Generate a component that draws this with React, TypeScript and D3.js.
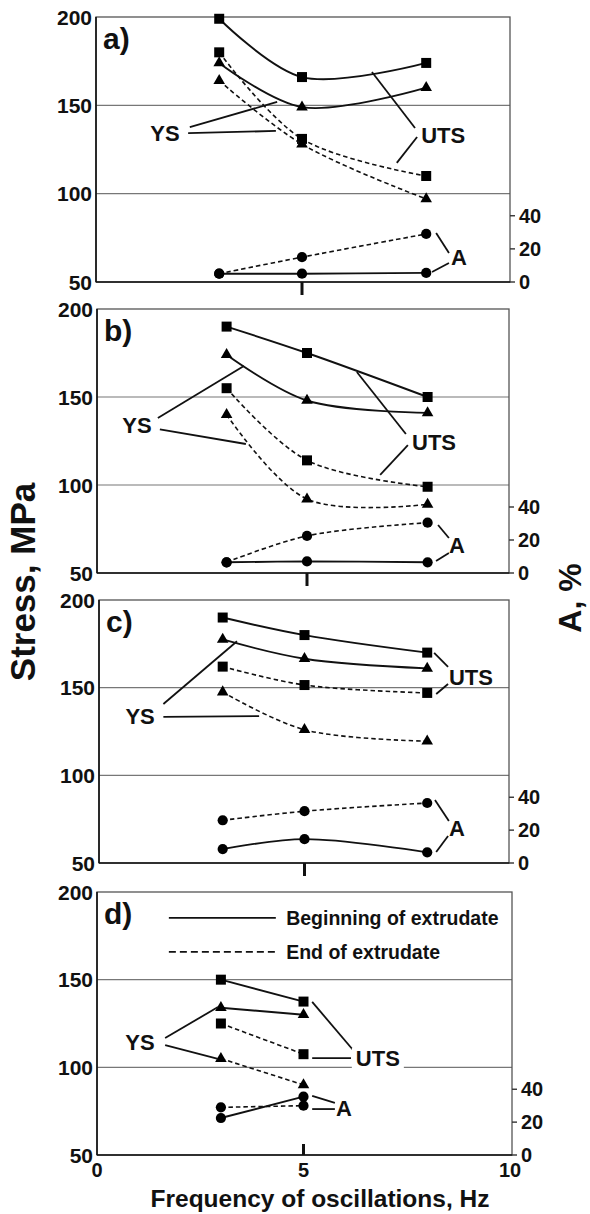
import * as React from 'react'
import * as d3 from 'd3'

const W = 590
const H = 1214
const FONT = '"Liberation Sans", Arial, sans-serif'

const STRESS_TICKS = [50, 100, 150, 200]
const GRID_VALUES = [100, 150]
const A_TICKS = [0, 20, 40]
const FREQ_TICKS = [0, 5, 10]

const FREQ_ABC = [3, 5, 8]
const FREQ_D = [3, 5]

// a)
const utsBeginA = [199, 166, 174]
const ysBeginA = [174, 149, 160]
const utsEndA = [180, 131, 110]
const ysEndA = [164, 128, 97]
const aBeginA = [5, 5, 5.5]
const aEndA = [5, 15, 29]

// b)
const utsBeginB = [190, 175, 150]
const ysBeginB = [174, 148, 141]
const utsEndB = [155, 114, 99]
const ysEndB = [140, 92, 89]
const aBeginB = [6.5, 7, 6.5]
const aEndB = [6.5, 22.5, 30.5]

// c)
const utsBeginC = [190, 180, 170]
const ysBeginC = [177.5, 166.5, 161]
const utsEndC = [162, 151.5, 147]
const ysEndC = [147.5, 126, 119.5]
const aBeginC = [8.5, 14.5, 6.5]
const aEndC = [26, 31.5, 36.5]

// d)
const utsBeginD = [150, 137.5]
const ysBeginD = [134, 130]
const utsEndD = [125, 107.5]
const ysEndD = [105, 90]
const aBeginD = [22.5, 35.5]
const aEndD = [29, 30]

// layout of the four stacked panels (px)
const PANEL_TOPS = [17, 309, 600, 892]
const PANEL_BOTTOMS = [282, 573, 863, 1155]
const FRAME_X = [[96, 510], [97, 509], [99, 509], [97, 512]]
const DATA_X = [[95, 509], [106, 508], [100, 509], [97, 510]]

// labels with leader lines, in (Hz, MPa)
type Note = { text: string; pos: [number, number]; leaders: number[][]; bg?: boolean }

const notesA: Note[] = [
  { text: 'YS', pos: [1.69, 134.3], leaders: [[2.29, 137.7, 4.4, 151.9], [2.25, 134.3, 4.37, 135.5]] },
  { text: 'UTS', pos: [8.41, 133.2], leaders: [[7.73, 137.2, 6.69, 168.9], [7.78, 132.1, 7.29, 117.4]] },
  { text: 'A', pos: [8.79, 64.2], leaders: [[8.24, 77.7, 8.55, 66.4], [8.14, 55.7, 8.55, 60.8]] }
]
const notesB: Note[] = [
  { text: 'YS', pos: [0.77, 134.1], leaders: [[1.29, 138.1, 3.43, 167.6], [1.34, 131.6, 3.48, 123.3]] },
  { text: 'UTS', pos: [8.16, 124.4], leaders: [[7.46, 129, 6.24, 164.2], [7.51, 122.7, 6.82, 105.7]] },
  { text: 'A', pos: [8.73, 65.9], leaders: [[8.26, 77.3, 8.53, 69.9], [8.21, 56.8, 8.53, 61.4]] }
]
const notesC: Note[] = [
  { text: 'YS', pos: [0.98, 133.8], leaders: [[1.55, 140.7, 3.35, 176.5], [1.55, 133.3, 3.89, 133.8]] },
  { text: 'UTS', pos: [9.07, 156.1], leaders: [[8.17, 169.8, 8.51, 161.8], [8.22, 146.4, 8.51, 152.1]] },
  { text: 'A', pos: [8.73, 70], leaders: [[8.19, 85.9, 8.53, 74], [8.22, 56.3, 8.51, 65.4]] }
]
const notesD: Note[] = [
  { text: 'YS', pos: [1.04, 114.5], leaders: [[1.65, 116.7, 2.93, 134.4], [1.65, 112.7, 2.93, 104.8]] },
  { text: 'UTS', pos: [6.8, 105.3], leaders: [[5.21, 137.3, 6.2, 109.9], [5.21, 105.3, 6.15, 105.3]], bg: true },
  { text: 'A', pos: [5.98, 76.8], leaders: [[5.21, 83.7, 5.76, 79.7], [5.21, 76.2, 5.76, 76.2]] }
]

const LEGEND_LABELS = ['Beginning of extrudate', 'End of extrudate']

type Series = { freq: number[]; values: number[]; kind: 'uts' | 'ys' | 'a'; dashed: boolean }

function makeSeries(freq: number[], ub: number[], yb: number[], ue: number[], ye: number[], ab: number[], ae: number[]): Series[] {
  return [
    { freq, values: ub, kind: 'uts', dashed: false },
    { freq, values: yb, kind: 'ys', dashed: false },
    { freq, values: ue, kind: 'uts', dashed: true },
    { freq, values: ye, kind: 'ys', dashed: true },
    { freq, values: ab, kind: 'a', dashed: false },
    { freq, values: ae, kind: 'a', dashed: true }
  ]
}

const PANELS = [
  { letter: 'a)', series: makeSeries(FREQ_ABC, utsBeginA, ysBeginA, utsEndA, ysEndA, aBeginA, aEndA), notes: notesA },
  { letter: 'b)', series: makeSeries(FREQ_ABC, utsBeginB, ysBeginB, utsEndB, ysEndB, aBeginB, aEndB), notes: notesB },
  { letter: 'c)', series: makeSeries(FREQ_ABC, utsBeginC, ysBeginC, utsEndC, ysEndC, aBeginC, aEndC), notes: notesC },
  { letter: 'd)', series: makeSeries(FREQ_D, utsBeginD, ysBeginD, utsEndD, ysEndD, aBeginD, aEndD), notes: notesD }
]

const symbolFor = {
  uts: d3.symbol().type(d3.symbolSquare).size(100)(),
  ys: d3.symbol().type(d3.symbolTriangle).size(58)(),
  a: d3.symbol().type(d3.symbolCircle).size(82)()
}

function Panel({ idx }: { idx: number }) {
  const p = PANELS[idx]
  const top = PANEL_TOPS[idx]
  const bottom = PANEL_BOTTOMS[idx]
  const [fl, fr] = FRAME_X[idx]
  const last = idx === 3
  const x = d3.scaleLinear().domain([0, 10]).range(DATA_X[idx])
  const y = d3.scaleLinear().domain([50, 200]).range([bottom, top])
  const ya = d3.scaleLinear().domain([0, 160]).range([bottom, top])

  return (
    <g>
      {GRID_VALUES.map(v => (
        <line key={v} x1={fl} x2={fr} y1={y(v)} y2={y(v)} stroke="#777" strokeWidth={1.2} />
      ))}
      <rect x={fl} y={top} width={fr - fl} height={bottom - top} fill="none" stroke="#555" strokeWidth={1.3} />
      <line x1={fl} x2={fl} y1={top} y2={bottom} stroke="#111" strokeWidth={1.6} />
      <line x1={fl} x2={fr} y1={bottom} y2={bottom} stroke="#111" strokeWidth={1.6} />

      {STRESS_TICKS.map(v => (
        <text key={v} x={fl - 4} y={y(v)} dy="0.36em" textAnchor="end" fontSize={21} fontWeight="bold">
          {v}
        </text>
      ))}
      {A_TICKS.map(v => (
        <g key={v}>
          <line x1={fr} x2={fr + 5} y1={ya(v)} y2={ya(v)} stroke="#333" strokeWidth={1.4} />
          <text x={fr + 9} y={ya(v)} dy="0.36em" fontSize={20} fontWeight="bold">
            {v}
          </text>
        </g>
      ))}
      <line x1={x(5)} x2={x(5)} y1={bottom} y2={last ? bottom - 11 : bottom + 13} stroke="#111" strokeWidth={3} />
      {last &&
        FREQ_TICKS.map(v => (
          <text key={v} x={x(v)} y={bottom + 22} textAnchor="middle" fontSize={20} fontWeight="bold">
            {v}
          </text>
        ))}

      <text x={fl + 7} y={top + 32} fontSize={30} fontWeight="bold">
        {p.letter}
      </text>

      {p.series.map((s, i) => {
        const ys = s.kind === 'a' ? ya : y
        const pts = s.freq.map((f, j) => [f, s.values[j]] as [number, number])
        const line = d3
          .line<[number, number]>()
          .x(d => x(d[0]))
          .y(d => ys(d[1]))
          .curve(d3.curveCatmullRom.alpha(0.5))
        return (
          <g key={i}>
            <path d={line(pts) || ''} fill="none" stroke="#111" strokeWidth={s.dashed ? 1.6 : 1.9} strokeDasharray={s.dashed ? '4.5,3' : undefined} />
            {pts.map((d, j) => (
              <path key={j} d={symbolFor[s.kind] || ''} transform={`translate(${x(d[0])},${ys(d[1])})`} fill="#000" />
            ))}
          </g>
        )
      })}

      {p.notes.map(n => (
        <g key={n.text}>
          {n.leaders.map((l, j) => (
            <line key={j} x1={x(l[0])} y1={y(l[1])} x2={x(l[2])} y2={y(l[3])} stroke="#111" strokeWidth={1.8} />
          ))}
          {n.bg && <rect x={x(n.pos[0]) - 26} y={y(n.pos[1]) - 10} width={52} height={20} fill="#fff" />}
          <text x={x(n.pos[0])} y={y(n.pos[1])} dy="0.36em" textAnchor="middle" fontSize={22} fontWeight="bold">
            {n.text}
          </text>
        </g>
      ))}

      {last &&
        LEGEND_LABELS.map((t, i) => {
          const v = i === 0 ? 185.2 : 165.8
          return (
            <g key={t}>
              <line x1={x(1.74)} x2={x(4.33)} y1={y(v)} y2={y(v)} stroke="#111" strokeWidth={1.8} strokeDasharray={i === 1 ? '7,4' : undefined} />
              <text x={x(4.58)} y={y(v)} dy="0.36em" fontSize={19.5} fontWeight="bold">
                {t}
              </text>
            </g>
          )
        })}
    </g>
  )
}

export default function App() {
  return (
    <svg
      width={W}
      height={H}
      style={{ position: 'absolute', left: 0, top: 0, background: '#fff' }}
      fontFamily={FONT}
      fill="#111"
    >
      {PANELS.map((_, i) => (
        <Panel key={i} idx={i} />
      ))}
      <text transform="translate(35,582) rotate(-90)" textAnchor="middle" fontSize={35} fontWeight="bold">
        Stress, MPa
      </text>
      <text transform="translate(581,598) rotate(-90)" textAnchor="middle" fontSize={32} fontWeight="bold">
        A, %
      </text>
      <text x={320} y={1207} textAnchor="middle" fontSize={24.5} fontWeight="bold">
        Frequency of oscillations, Hz
      </text>
    </svg>
  )
}
